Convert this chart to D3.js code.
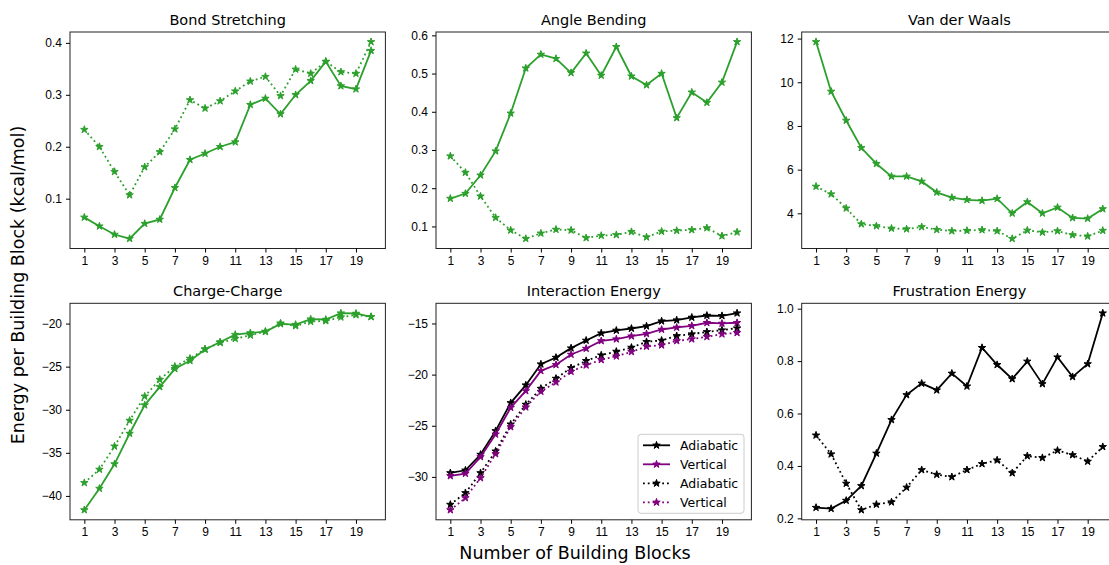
<!DOCTYPE html>
<html>
<head>
<meta charset="utf-8">
<script src="https://cdn.jsdelivr.net/npm/d3@7"></script>
<style>
  body { margin: 0; background: #fff; }
  svg { display: block; font-family: "DejaVu Sans", sans-serif; }
  .tick text { font-size: 12px; fill: #000; }
  .tick line, .domain { stroke: #000; }
</style>
</head>
<body>
<svg id="chart" width="1109" height="565"></svg>
<script>
// x values: number of building blocks
const blocks = d3.range(1, 21);
const xTicks = [1, 3, 5, 7, 9, 11, 13, 15, 17, 19];

// Bond Stretching
const bondAdiabatic = [0.064, 0.047, 0.031, 0.023, 0.052, 0.060, 0.121, 0.175, 0.187, 0.200,
  0.209, 0.281, 0.293, 0.263, 0.300, 0.327, 0.364, 0.317, 0.311, 0.385];
const bondVertical = [0.233, 0.200, 0.152, 0.107, 0.161, 0.190, 0.234, 0.290, 0.274, 0.288,
  0.307, 0.326, 0.335, 0.298, 0.349, 0.341, 0.364, 0.344, 0.341, 0.402];
const bondTicks = [0.1, 0.2, 0.3, 0.4];

// Angle Bending
const angleAdiabatic = [0.173, 0.186, 0.234, 0.297, 0.396, 0.514, 0.550, 0.539, 0.502, 0.553,
  0.495, 0.570, 0.493, 0.470, 0.500, 0.384, 0.451, 0.424, 0.477, 0.583];
const angleVertical = [0.284, 0.241, 0.179, 0.123, 0.090, 0.068, 0.082, 0.092, 0.090, 0.070,
  0.076, 0.078, 0.086, 0.072, 0.087, 0.089, 0.091, 0.096, 0.075, 0.085];
const angleTicks = [0.1, 0.2, 0.3, 0.4, 0.5, 0.6];

// Van der Waals
const vdwAdiabatic = [11.85, 9.58, 8.25, 7.00, 6.27, 5.69, 5.69, 5.46, 4.96, 4.72,
  4.62, 4.58, 4.67, 4.00, 4.52, 4.00, 4.27, 3.79, 3.76, 4.20];
const vdwVertical = [5.23, 4.88, 4.23, 3.51, 3.42, 3.31, 3.28, 3.38, 3.25, 3.19,
  3.21, 3.24, 3.19, 2.84, 3.22, 3.13, 3.19, 3.01, 2.95, 3.21];
const vdwTicks = [4, 6, 8, 10, 12];

// Charge-Charge
const chargeAdiabatic = [-41.63, -39.14, -36.30, -32.76, -29.46, -27.35, -25.25, -24.32, -23.00, -22.14,
  -21.28, -21.09, -20.93, -20.04, -20.12, -19.49, -19.53, -18.79, -18.83, -19.22];
const chargeVertical = [-38.48, -36.93, -34.24, -31.25, -28.44, -26.50, -24.98, -24.05, -22.96, -22.22,
  -21.75, -21.36, -20.93, -19.96, -20.27, -19.77, -19.69, -19.26, -19.00, -19.20];
const chargeTicks = [-40, -35, -30, -25, -20];

// Interaction Energy (solid = one set, dotted = other)
const interAdiabatic = [-29.61, -29.35, -27.81, -25.50, -22.76, -21.03, -18.98, -18.33, -17.41, -16.66,
  -15.95, -15.68, -15.49, -15.26, -14.77, -14.67, -14.41, -14.22, -14.25, -13.99];
const interVertical = [-29.90, -29.67, -28.04, -25.83, -23.22, -21.59, -19.63, -19.04, -18.03, -17.45,
  -16.70, -16.53, -16.24, -16.01, -15.59, -15.39, -15.23, -14.93, -15.00, -14.93];
const interAdiabaticDot = [-32.70, -31.56, -29.61, -27.49, -24.85, -22.92, -21.36, -20.38, -19.34, -18.65,
  -18.10, -17.74, -17.35, -16.79, -16.66, -16.21, -16.04, -15.82, -15.65, -15.46];
const interVerticalDot = [-33.23, -32.05, -30.10, -27.75, -25.11, -23.18, -21.65, -20.74, -19.70, -19.08,
  -18.55, -18.20, -17.77, -17.25, -17.12, -16.70, -16.53, -16.30, -16.04, -15.91];
const interTicks = [-30, -25, -20, -15];

// Frustration Energy
const frustSolid = [0.241, 0.237, 0.268, 0.324, 0.448, 0.576, 0.671, 0.715, 0.689, 0.753,
  0.704, 0.851, 0.786, 0.732, 0.799, 0.713, 0.815, 0.740, 0.789, 0.983];
const frustDotted = [0.517, 0.445, 0.333, 0.232, 0.253, 0.262, 0.318, 0.385, 0.367, 0.358,
  0.385, 0.408, 0.422, 0.373, 0.438, 0.431, 0.459, 0.442, 0.417, 0.473];
const frustTicks = [0.2, 0.4, 0.6, 0.8, 1.0];

const legendLabels = ['Adiabatic', 'Vertical', 'Adiabatic', 'Vertical'];

const GREEN = '#2ca02c', PURPLE = '#800080', BLACK = '#000000';

const panels = [
  { title: 'Bond Stretching', col: 0, row: 0, ticks: bondTicks, fmt: d3.format('.1f'),
    series: [{ v: bondAdiabatic, c: GREEN }, { v: bondVertical, c: GREEN, dot: true }] },
  { title: 'Angle Bending', col: 1, row: 0, ticks: angleTicks, fmt: d3.format('.1f'),
    series: [{ v: angleAdiabatic, c: GREEN }, { v: angleVertical, c: GREEN, dot: true }] },
  { title: 'Van der Waals', col: 2, row: 0, ticks: vdwTicks, fmt: d3.format('d'),
    series: [{ v: vdwAdiabatic, c: GREEN }, { v: vdwVertical, c: GREEN, dot: true }] },
  { title: 'Charge-Charge', col: 0, row: 1, ticks: chargeTicks, fmt: d3.format('d'),
    series: [{ v: chargeAdiabatic, c: GREEN }, { v: chargeVertical, c: GREEN, dot: true }] },
  { title: 'Interaction Energy', col: 1, row: 1, ticks: interTicks, fmt: d3.format('d'), legend: true,
    series: [{ v: interAdiabatic, c: BLACK }, { v: interVertical, c: PURPLE },
             { v: interAdiabaticDot, c: BLACK, dot: true }, { v: interVerticalDot, c: PURPLE, dot: true }] },
  { title: 'Frustration Energy', col: 2, row: 1, ticks: frustTicks, fmt: d3.format('.1f'),
    series: [{ v: frustSolid, c: BLACK }, { v: frustDotted, c: BLACK, dot: true }] },
];

const svg = d3.select('#chart');
const colLeft = [70, 436, 801.7];
const rowTop = [32, 303.3];
const panelW = 315.4, panelH = 216.5;

const star = d3.symbol().type(d3.symbolStar).size(17);
const dotDash = '1.8,3';
const minus = s => s.replace('-', '\u2212');

panels.forEach(p => {
  const left = colLeft[p.col], top = rowTop[p.row];
  const g = svg.append('g').attr('transform', `translate(${left},${top})`);

  const x = d3.scaleLinear().domain([0.05, 20.95]).range([0, panelW]);
  const all = p.series.flatMap(s => s.v);
  const [lo, hi] = d3.extent(all);
  const pad = (hi - lo) * 0.05;
  const y = d3.scaleLinear().domain([lo - pad, hi + pad]).range([panelH, 0]);

  const line = d3.line().x((d, i) => x(blocks[i])).y(d => y(d));

  p.series.forEach(s => {
    g.append('path')
      .attr('d', line(s.v))
      .attr('fill', 'none')
      .attr('stroke', s.c)
      .attr('stroke-width', 1.8)
      .attr('stroke-dasharray', s.dot ? dotDash : null);
    g.selectAll(null).data(s.v).enter().append('path')
      .attr('d', star)
      .attr('transform', (d, i) => `translate(${x(blocks[i])},${y(d)})`)
      .attr('fill', s.c)
      .attr('stroke', s.c)
      .attr('stroke-width', 1);
  });

  // frame
  g.append('rect').attr('width', panelW).attr('height', panelH)
    .attr('fill', 'none').attr('stroke', '#222').attr('stroke-width', 1);

  g.append('g').attr('transform', `translate(0,${panelH})`)
    .call(d3.axisBottom(x).tickValues(xTicks).tickSize(4).tickPadding(4).tickFormat(d3.format('d')))
    .call(a => a.select('.domain').remove());
  g.append('g')
    .call(d3.axisLeft(y).tickValues(p.ticks).tickSize(4).tickPadding(4).tickFormat(d => minus(p.fmt(d))))
    .call(a => a.select('.domain').remove());

  g.append('text')
    .attr('x', panelW / 2).attr('y', -7)
    .attr('text-anchor', 'middle').attr('font-size', 14.5)
    .text(p.title);

  if (p.legend) {
    const lg = g.append('g').attr('transform', `translate(${202},${131})`);
    lg.append('rect').attr('width', 106).attr('height', 79).attr('rx', 3)
      .attr('fill', 'white').attr('fill-opacity', 0.8)
      .attr('stroke', '#ccc').attr('stroke-width', 1);
    p.series.forEach((s, i) => {
      const yy = 11 + i * 19;
      lg.append('line').attr('x1', 5).attr('x2', 32).attr('y1', yy).attr('y2', yy)
        .attr('stroke', s.c).attr('stroke-width', 1.8)
        .attr('stroke-dasharray', s.dot ? dotDash : null);
      lg.append('path').attr('d', star).attr('transform', `translate(18.5,${yy})`)
        .attr('fill', s.c).attr('stroke', s.c).attr('stroke-width', 1);
      lg.append('text').attr('x', 42).attr('y', yy).attr('dy', '0.35em')
        .attr('font-size', 12.5).text(legendLabels[i]);
    });
  }
});

svg.append('text')
  .attr('transform', 'translate(24,285) rotate(-90)')
  .attr('text-anchor', 'middle').attr('font-size', 17.5)
  .text('Energy per Building Block (kcal/mol)');

svg.append('text')
  .attr('x', 575).attr('y', 559)
  .attr('text-anchor', 'middle').attr('font-size', 17.5)
  .text('Number of Building Blocks');
</script>
</body>
</html>
